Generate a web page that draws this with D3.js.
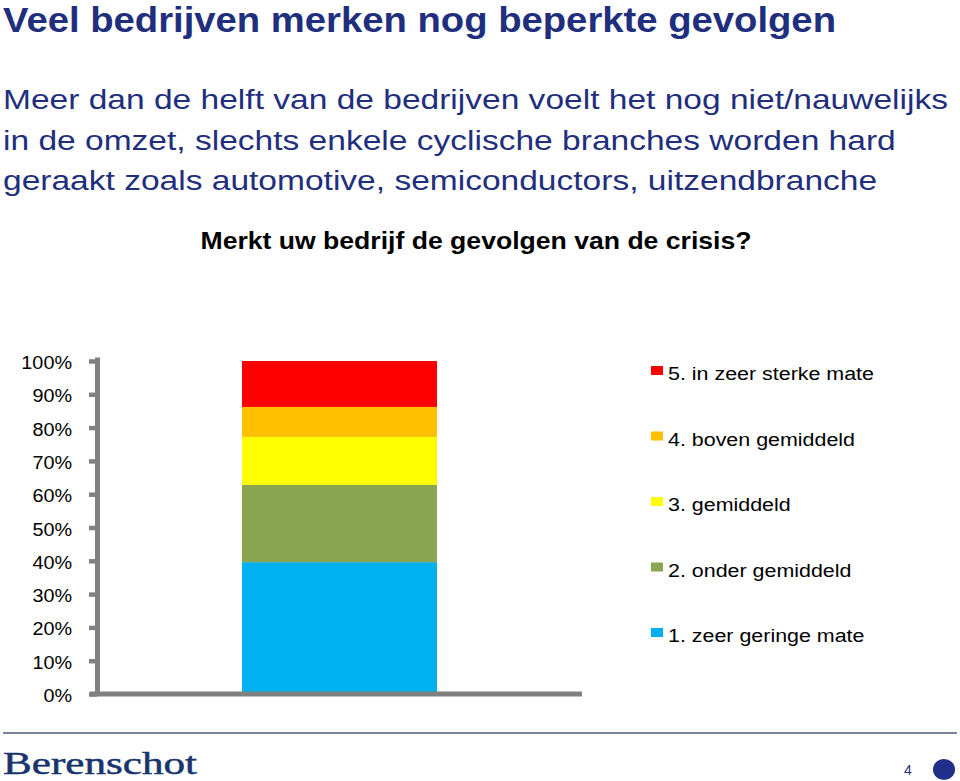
<!DOCTYPE html>
<html><head><meta charset="utf-8">
<script src="https://cdn.jsdelivr.net/npm/d3@7"></script>
<style>body{margin:0;background:#fff}svg{display:block}</style>
</head><body>
<svg id="c" width="960" height="781"></svg>
<script>
const categories = ["1. zeer geringe mate","2. onder gemiddeld","3. gemiddeld","4. boven gemiddeld","5. in zeer sterke mate"];
const values = [39.6, 23.2, 14.4, 9.0, 13.8];
const colors = ["#00B0F0","#8BA650","#FFFF00","#FFC000","#FF0000"];
const tickValues = [0,10,20,30,40,50,60,70,80,90,100];
const title = "Veel bedrijven merken nog beperkte gevolgen";
const subtitle = ["Meer dan de helft van de bedrijven voelt het nog niet/nauwelijks","in de omzet, slechts enkele cyclische branches worden hard","geraakt zoals automotive, semiconductors, uitzendbranche"];
const question = "Merkt uw bedrijf de gevolgen van de crisis?";

const svg = d3.select("#c");
const navy = "#1F2F7E";
const font = "'Liberation Sans', Arial, sans-serif";

// stretch helper: widen text horizontally by factor k
function stretch(sel, k){
  sel.each(function(){
    const w = this.getComputedTextLength();
    d3.select(this).attr("textLength", w*k).attr("lengthAdjust","spacingAndGlyphs");
  });
}

const t = svg.append("text").attr("x",3).attr("y",31.5).attr("fill",navy)
  .style("font-family",font).style("font-weight","bold").style("font-size","34.5px").text(title);
t.attr("textLength",833).attr("lengthAdjust","spacingAndGlyphs");

const subs = svg.selectAll("text.sub").data(subtitle).join("text").attr("class","sub")
  .attr("x",3).attr("y",(d,i)=>109+i*40.5).attr("fill",navy)
  .style("font-family",font).style("font-size","27.5px").text(d=>d);
const subK = 945 / subs.node().getComputedTextLength();
stretch(subs, subK);

const q = svg.append("text").attr("x",476).attr("y",249).attr("text-anchor","middle").attr("fill","#000")
  .style("font-family",font).style("font-weight","bold").style("font-size","23px").text(question);
q.attr("textLength",551).attr("lengthAdjust","spacingAndGlyphs");

const y = d3.scaleLinear().domain([0,100]).range([694,361]);

// stacked data
const stack = [];
let acc = 0;
values.forEach((v,i)=>{stack.push({cat:categories[i],y0:acc,y1:acc+v,color:colors[i]}); acc+=v;});

svg.selectAll("rect.seg").data(stack).join("rect").attr("class","seg")
  .attr("x",242).attr("width",195)
  .attr("y",d=>y(d.y1)).attr("height",d=>y(d.y0)-y(d.y1)).attr("fill",d=>d.color);

// axis
const axisG = svg.append("g").attr("transform","translate(97,0)");
const ax = d3.axisLeft(y).tickValues(tickValues).tickFormat(d=>d+"%").tickSize(8).tickPadding(17);
axisG.call(ax);
axisG.select(".domain").remove();
axisG.selectAll(".tick line").attr("stroke","#808080").attr("stroke-width",4.5);
const tt = axisG.selectAll(".tick text").style("font-family",font).style("font-size","18px").attr("fill","#000").attr("dy","0.42em");
stretch(tt, 1.1);
svg.append("line").attr("x1",97.5).attr("x2",97.5).attr("y1",357.5).attr("y2",696).attr("stroke","#808080").attr("stroke-width",5);
svg.append("line").attr("x1",90).attr("x2",582).attr("y1",694).attr("y2",694).attr("stroke","#808080").attr("stroke-width",5);

// legend
const legendData = stack.slice().reverse();
const lg = svg.selectAll("g.lg").data(legendData).join("g").attr("class","lg")
  .attr("transform",(d,i)=>`translate(651,${373+i*65.5})`);
lg.append("rect").attr("x",0).attr("y",-7).attr("width",12).attr("height",9).attr("fill",d=>d.color);
const lt = lg.append("text").attr("x",17).attr("y",7).attr("fill","#000")
  .style("font-family",font).style("font-size","18px").text(d=>d.cat);
stretch(lt, 1.19);

// footer
svg.append("line").attr("x1",3).attr("x2",957).attr("y1",733).attr("y2",733).attr("stroke","#4a5a7a").attr("stroke-width",1.5);
svg.append("text").attr("x",3).attr("y",774).attr("fill","#17356C")
  .style("font-family","'Liberation Serif','DejaVu Serif',serif").style("font-size","32px")
  .style("stroke","#17356C").style("stroke-width","0.5px")
  .attr("textLength",194).attr("lengthAdjust","spacingAndGlyphs").text("Berenschot");
svg.append("text").attr("x",908).attr("y",775).attr("fill","#1F2F7E").attr("text-anchor","middle")
  .style("font-family",font).style("font-size","14px").text("4");
svg.append("ellipse").attr("cx",944).attr("cy",769.5).attr("rx",11).attr("ry",10.5).attr("fill","#1F2F8A");
</script>
</body></html>
